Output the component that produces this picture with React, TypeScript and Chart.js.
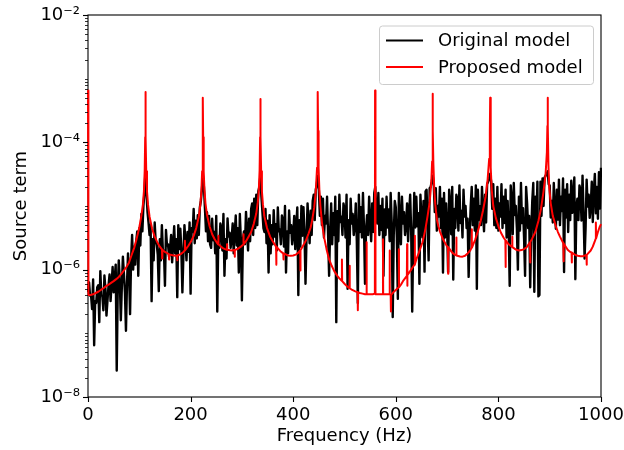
import React, { useEffect, useRef } from "react";
import { Chart, registerables } from "chart.js";

Chart.register(...registerables);

// ---- data (values in units of 1e-6) ----
const FREQ_STEP_HZ = 2;
const MICRO = 1e-6;

// Original model: one value every 2 Hz from 0 to 1000 Hz (10 values = 20 Hz per row)
const originalMicro: number[] = [
  0.45, 0.63, 0.39, 0.39, 0.24, 0.7, 0.065, 0.32, 0.3, 0.53,
  0.57, 0.15, 0.95, 0.4, 0.38, 0.23, 0.81, 0.5, 0.19, 0.33,
  0.56, 0.84, 0.32, 0.6, 1.1, 0.44, 0.72, 1.2, 0.026, 0.52,
  1.4, 0.66, 0.16, 0.55, 1.6, 0.88, 0.44, 0.11, 0.6, 1.8,
  0.9, 0.2, 1.5, 3.5, 1.0, 2.3, 1.2, 2.8, 4.0, 0.8,
  4.5, 2.4, 7.5, 4.0, 10, 16, 35, 16, 8.0, 5.5,
  3.5, 5.0, 0.32, 3.0, 1.4, 5.5, 2.7, 2.5, 1.7, 0.46,
  3.0, 1.4, 5.0, 1.9, 2.0, 0.56, 4.2, 2.4, 2.5, 1.6,
  2.2, 3.5, 1.3, 2.5, 4.8, 1.8, 3.0, 0.37, 5.0, 2.1,
  4.4, 2.0, 0.44, 1.7, 5.0, 2.7, 1.4, 3.9, 1.9, 5.5,
  0.42, 4.5, 3.9, 9.0, 2.6, 5.9, 3.1, 7.2, 3.5, 9.5,
  12, 18, 30, 20, 9.0, 4.0, 8.0, 2.8, 7.0, 2.5,
  2.2, 6.3, 2.9, 3.9, 1.8, 7.0, 0.22, 3.2, 2.2, 5.3,
  4.5, 2.0, 7.5, 0.8, 3.0, 1.5, 6.4, 3.3, 3.8, 2.2,
  3.1, 5.3, 1.8, 3.8, 7.1, 2.4, 4.5, 0.9, 7.5, 2.9,
  0.33, 3.0, 4.0, 2.5, 8.1, 4.0, 2.0, 6.3, 2.8, 9.0,
  11, 3.5, 13, 4.5, 15, 5.0, 17, 20, 30, 14,
  8.0, 4.5, 3.9, 9.0, 2.6, 5.9, 0.9, 7.2, 1.8, 5.0,
  2.5, 8.6, 3.3, 5.2, 2.0, 9.5, 4.0, 4.3, 2.5, 7.1,
  6.0, 2.3, 10, 0.9, 4.0, 1.8, 8.5, 3.8, 5.0, 2.5,
  3.6, 7.0, 2.1, 5.0, 9.5, 0.4, 6.0, 2.3, 10, 3.4,
  9.6, 3.8, 0.6, 3.2, 11, 5.1, 2.6, 8.4, 3.5, 12,
  15, 6.0, 18, 22, 30, 18, 7.0, 14, 5.0, 13,
  3.2, 7.0, 5.3, 14, 3.5, 0.8, 4.2, 11, 2.5, 7.7,
  3.5, 14, 0.15, 8.3, 2.8, 15, 5.6, 6.8, 3.5, 11,
  9.0, 3.2, 15, 0.5, 6.0, 2.5, 13, 5.3, 7.5, 3.5,
  4.9, 11, 2.8, 0.3, 15, 3.9, 9.6, 3.2, 16, 4.6,
  0.6, 4.2, 7.2, 3.5, 14, 5.6, 2.8, 11, 3.9, 16,
  20, 8.0, 5.3, 16, 3.5, 10, 4.2, 13, 0.8, 8.8,
  3.5, 14, 4.6, 8.8, 2.8, 16, 5.6, 0.18, 3.5, 12,
  9.6, 3.2, 0.35, 16, 6.4, 2.5, 14, 5.3, 8.0, 3.5,
  4.9, 11, 2.8, 8.0, 15, 3.9, 0.22, 3.2, 16, 4.6,
  14, 4.8, 7.7, 0.6, 15, 6.4, 3.2, 12, 0.93, 17,
  18, 5.0, 1.4, 19, 20, 24, 30, 22, 8.0, 19,
  4.1, 10, 6.8, 20, 4.5, 13, 0.9, 16, 3.2, 11,
  4.5, 0.92, 18, 11, 3.6, 20, 0.7, 9.0, 4.5, 15,
  13, 4.1, 21, 5.4, 8.4, 3.2, 18, 6.8, 10, 4.5,
  6.3, 0.77, 3.6, 10, 20, 5.0, 13, 4.1, 21, 0.5,
  18, 6.0, 9.9, 5.0, 20, 8.0, 4.0, 15, 5.5, 22,
  24, 27, 32, 24, 9.0, 22, 5.0, 13, 4.5, 20,
  4.1, 11, 6.8, 22, 4.5, 14, 5.4, 18, 3.2, 12,
  4.5, 0.56, 21, 12.6, 3.6, 23, 7.2, 10, 4.5, 1.0,
  14, 4.1, 23, 5.4, 9.2, 3.2, 0.8, 20, 11, 4.5,
  7.0, 0.53, 4.0, 12, 23, 0.45, 14, 4.5, 24, 0.38,
  0.4, 24, 7.0, 27, 10, 28, 30, 32, 35, 22,
  21, 6.6, 12, 5.5, 23, 8.8, 4.4, 18, 6.1, 26,
  5.0, 14, 8.3, 27, 0.92, 18, 6.6, 22, 3.9, 15,
  6.0, 25, 7.8, 15, 28, 0.71, 9.6, 13, 6.0, 21,
  18, 5.9, 30, 7.8, 1.5, 4.6, 26, 9.8, 15, 6.5,
  9.8, 24, 5.6, 17, 32, 7.7, 20, 6.3, 34, 9.1,
  40,
];

// Proposed model: [frequency Hz, value x1e-6]
const proposedModel: [number, number][] = [
  [0, 650], [0.8, 0.4], [5, 0.4], [10, 0.41], [15, 0.43], [20, 0.45], [25, 0.48], [30, 0.51],
  [35, 0.55], [40, 0.58], [45, 0.62], [50, 0.66], [55, 0.71], [60, 0.77], [65, 0.86], [70, 0.97],
  [75, 1.1], [80, 1.3], [85, 1.7], [90, 2.2], [95, 3.1], [100, 4.6], [104, 7], [107, 10.5],
  [109, 17], [110.5, 35], [111.5, 120], [112, 620], [112.5, 120], [113.5, 35], [115, 17],
  [117, 10.5], [120, 6.8], [125, 4.4], [130, 3.3], [135, 2.7], [140, 2.3], [144.2, 2.08],
  [144.6, 1.5], [145, 2.05], [150, 1.9], [155, 1.8], [157.6, 1.75], [158, 1.45], [158.4, 1.74],
  [165, 1.68], [170, 1.66], [173.6, 1.67], [174, 1.4], [174.4, 1.67], [180, 1.74], [186, 1.9],
  [188.6, 2.0], [189, 2.85], [189.4, 2.02], [196, 2.4], [201, 2.8], [206, 3.4], [211, 4.5],
  [216, 6.8], [219, 10.5], [221, 17], [222.5, 35], [223.5, 120], [224, 500], [224.5, 120],
  [225.5, 35], [227, 18], [229, 11], [232, 7.2], [237, 4.8], [242, 3.6], [247, 3.0], [252, 2.6],
  [253.6, 2.5], [254, 3.4], [254.4, 2.5], [262, 2.2], [267, 2.1], [270.6, 2.05], [271, 2.5],
  [271.4, 2.05], [280, 2.0], [285.6, 2.03], [286, 1.6], [286.4, 2.03], [293, 2.15], [298, 2.3],
  [302.6, 2.48], [303, 3.6], [303.4, 2.5], [308, 2.8], [313, 3.3], [318, 3.9], [323, 5.2],
  [328, 7.6], [331, 11.5], [333, 18], [334.5, 36], [335.5, 120], [336, 480], [336.5, 120],
  [337.5, 35], [339, 17], [341, 10.5], [344, 6.8], [349, 4.5], [355, 3.3], [360, 2.8],
  [366.6, 2.3], [367, 1.2], [367.4, 2.3], [375, 1.95], [380.6, 1.8], [381, 1.45], [381.4, 1.8],
  [390, 1.67], [395, 1.65], [400, 1.67], [405, 1.72], [410, 1.85], [413.6, 2.0], [414, 0.97],
  [414.4, 2.02], [420, 2.45], [425, 2.9], [430, 3.7], [434, 4.6], [437, 6], [441, 9.5], [444, 17],
  [446.5, 40], [447.5, 150], [448, 620], [448.5, 150], [449.5, 40], [451, 18], [453, 10],
  [456, 5.5], [460, 3.3], [465, 2.1], [470, 1.45], [475, 1.15], [480, 0.95], [486, 0.8],
  [490, 0.73], [494.6, 0.67], [495, 1.45], [495.4, 0.66], [500, 0.6], [505, 0.55], [509.6, 0.51],
  [510, 1.15], [510.4, 0.51], [515, 0.48], [520, 0.46], [525.6, 0.44], [526, 0.23], [526.4, 0.44],
  [530, 0.43], [535, 0.42], [540, 0.41], [542.6, 0.41], [543, 2.7], [543.4, 0.41], [550, 0.41],
  [555, 0.41], [559.2, 0.42], [559.6, 650], [560.2, 650], [560.6, 0.41], [565, 0.41], [570, 0.41],
  [574.6, 0.41], [575, 3.0], [575.4, 0.41], [580, 0.41], [585, 0.41], [587.6, 0.41], [588, 2.0],
  [588.4, 0.41], [590, 0.4], [590.5, 0.22], [591, 0.4], [595, 0.44], [600, 0.48], [605.6, 0.53],
  [606, 2.1], [606.4, 0.53], [610, 0.58], [615, 0.68], [621.6, 0.8], [622, 2.5], [622.4, 0.56],
  [622.8, 0.82], [630, 1.0], [635, 1.15], [636.6, 1.2], [637, 3.4], [637.4, 1.22], [640, 1.45],
  [645, 1.85], [649, 2.3], [652, 2.7], [655, 3.4], [658, 4.5], [662, 7], [666, 11.5], [669, 22],
  [670.8, 50], [671.6, 150], [672, 580], [672.4, 150], [673.3, 45], [675, 18], [677, 10.5],
  [680, 6.2], [683, 4.8], [686, 4], [692, 3], [700, 2.3], [701.6, 2.25], [702, 0.86],
  [702.4, 2.24], [710, 1.85], [715, 1.72], [717.6, 1.68], [718, 3.2], [718.4, 1.67], [725, 1.61],
  [730, 1.6], [735, 1.65], [740, 1.8], [745, 2.0], [747.6, 2.2], [748, 4.3], [748.4, 2.2],
  [755, 3.0], [760, 4.0], [765, 5.6], [770, 8.5], [775, 14], [779, 26], [782, 55], [783.3, 150],
  [784, 500], [784.5, 150], [785.5, 40], [787, 18], [790, 10], [795, 6.5], [800, 4.8], [805, 3.8],
  [810, 3.2], [813.6, 2.9], [814, 1.1], [814.4, 2.88], [820, 2.5], [826.6, 2.27], [827, 3.3],
  [827.4, 2.26], [835, 2.05], [840, 2.0], [845, 2.03], [850, 2.1], [855, 2.25], [861.6, 2.7],
  [862, 1.3], [862.4, 2.72], [866, 3.1], [872, 3.9], [878, 5.8], [883, 9], [888, 17], [892, 32],
  [894.5, 70], [895.5, 180], [896, 500], [896.5, 180], [897.5, 45], [899, 20], [902, 11],
  [906, 7], [912, 4.8], [916, 3.9], [920, 3.3], [926.6, 2.6], [927, 1.35], [927.4, 2.58],
  [935, 2.05], [940, 1.9], [942.6, 1.86], [943, 1.3], [943.4, 1.85], [950, 1.7], [955, 1.65],
  [960, 1.62], [965, 1.63], [971.6, 1.7], [972, 1.2], [972.4, 1.71], [980, 2.0], [984, 2.3],
  [988, 2.8], [989.6, 3.05], [990, 5.5], [990.4, 3.1], [994, 3.9], [997, 4.6], [1000, 5.2],
];

const seriesLabels = ["Original model", "Proposed model"];
const seriesColors = ["#000000", "#ff0000"];
const xTickValues = [0, 200, 400, 600, 800, 1000];
const yMajorExponents = [-8, -6, -4, -2];
const yMinorSubs = [2, 3, 4, 5, 6, 7, 8, 9];
const xTitle = "Frequency (Hz)";
const yTitle = "Source term";

const FONT = "'DejaVu Sans', 'Liberation Sans', sans-serif";
const SUP: Record<string, string> = {
  "-": "\u207B", "0": "\u2070", "1": "\u00B9", "2": "\u00B2", "3": "\u00B3",
  "4": "\u2074", "5": "\u2075", "6": "\u2076", "7": "\u2077", "8": "\u2078", "9": "\u2079",
};
const sup = (s: string) => s.split("").map((c) => SUP[c] ?? c).join("");

export default function App() {
  const canvasRef = useRef<HTMLCanvasElement | null>(null);

  useEffect(() => {
    document.body.style.margin = "0";
    const canvas = canvasRef.current;
    if (!canvas) return;

    const originalPoints = originalMicro.map((v, i) => ({ x: i * FREQ_STEP_HZ, y: v * MICRO }));
    const proposedPoints = proposedModel.map(([f, v]) => ({ x: f, y: v * MICRO }));

    const axesPlugin = {
      id: "mplAxes",
      beforeDatasetsDraw(chart: any) {
        const { ctx, chartArea: a } = chart;
        ctx.save();
        ctx.strokeStyle = "#000";
        ctx.lineWidth = 1.1;
        ctx.strokeRect(a.left, a.top, a.right - a.left, a.bottom - a.top);
        ctx.restore();
      },
      afterDraw(chart: any) {
        const { ctx, chartArea: a, scales } = chart;
        ctx.save();
        ctx.strokeStyle = "#000";
        // x ticks
        ctx.lineWidth = 1.1;
        for (const v of xTickValues) {
          const px = Math.round(scales.x.getPixelForValue(v)) + 0.5;
          ctx.beginPath();
          ctx.moveTo(px, a.bottom);
          ctx.lineTo(px, a.bottom + 5);
          ctx.stroke();
        }
        // y ticks
        for (let e = -8; e <= -2; e++) {
          const major = yMajorExponents.includes(e);
          const py = Math.round(scales.y.getPixelForValue(Math.pow(10, e))) + 0.5;
          ctx.lineWidth = major ? 1.1 : 0.8;
          ctx.beginPath();
          ctx.moveTo(a.left, py);
          ctx.lineTo(a.left - (major ? 5 : 3), py);
          ctx.stroke();
          if (e < -2) {
            ctx.lineWidth = 0.8;
            for (const s of yMinorSubs) {
              const y = Math.round(scales.y.getPixelForValue(s * Math.pow(10, e))) + 0.5;
              ctx.beginPath();
              ctx.moveTo(a.left, y);
              ctx.lineTo(a.left - 3, y);
              ctx.stroke();
            }
          }
        }
        // legend
        const boxW = 214;
        const boxH = 58.5;
        const bx = a.right - 8 - boxW;
        const by = a.top + 10.5;
        ctx.beginPath();
        (ctx as any).roundRect(bx + 0.5, by + 0.5, boxW, boxH, 3);
        ctx.fillStyle = "rgba(255,255,255,0.8)";
        ctx.fill();
        ctx.strokeStyle = "#cccccc";
        ctx.lineWidth = 1;
        ctx.stroke();
        ctx.font = `18px ${FONT}`;
        ctx.textBaseline = "middle";
        ctx.textAlign = "left";
        chart.data.datasets.forEach((ds: any, i: number) => {
          const cy = by + 15 + i * 26.5;
          ctx.strokeStyle = ds.borderColor;
          ctx.lineWidth = 2;
          ctx.beginPath();
          ctx.moveTo(bx + 7, cy);
          ctx.lineTo(bx + 44, cy);
          ctx.stroke();
          ctx.fillStyle = "#000";
          ctx.fillText(ds.label, bx + 59, cy + 1);
        });
        ctx.restore();
      },
    };

    const chart = new Chart(canvas, {
      type: "line",
      data: {
        datasets: [
          {
            label: seriesLabels[0],
            data: originalPoints,
            borderColor: seriesColors[0],
            backgroundColor: seriesColors[0],
            borderWidth: 2.4,
            pointRadius: 0,
            tension: 0,
            borderJoinStyle: "round",
            order: 1,
            clip: 1,
          },
          {
            label: seriesLabels[1],
            data: proposedPoints,
            borderColor: seriesColors[1],
            backgroundColor: seriesColors[1],
            borderWidth: 2,
            pointRadius: 0,
            tension: 0,
            borderJoinStyle: "round",
            order: 0,
            clip: 1,
          },
        ],
      },
      options: {
        animation: false,
        responsive: false,
        maintainAspectRatio: false,
        parsing: false as any,
        normalized: true,
        layout: { padding: { top: 15, right: 23, left: 0, bottom: 0 } },
        plugins: {
          legend: { display: false },
          tooltip: { enabled: false },
        },
        scales: {
          x: {
            type: "linear",
            min: 0,
            max: 1000,
            grid: { display: false, drawTicks: false },
            border: { display: false },
            afterBuildTicks: (s: any) => {
              s.ticks = xTickValues.map((v) => ({ value: v }));
            },
            afterFit: (s: any) => {
              s.height = 53;
              s.paddingLeft = 0;
              s.paddingRight = 0;
            },
            ticks: {
              color: "#000",
              font: { family: FONT, size: 18 },
              padding: 8,
              maxRotation: 0,
              autoSkip: false,
              callback: (v: any) => String(v),
            },
            title: {
              display: true,
              text: xTitle,
              color: "#000",
              font: { family: FONT, size: 18 },
              padding: { top: 0, bottom: 3 },
            },
          },
          y: {
            type: "logarithmic",
            min: 1e-8,
            max: 1e-2,
            grid: { display: false, drawTicks: false },
            border: { display: false },
            afterBuildTicks: (s: any) => {
              s.ticks = yMajorExponents.map((e) => ({ value: Math.pow(10, e) }));
            },
            afterFit: (s: any) => {
              s.width = 88;
              s.paddingTop = 0;
              s.paddingBottom = 0;
            },
            ticks: {
              color: "#000",
              font: { family: FONT, size: 18 },
              padding: 8,
              autoSkip: false,
              callback: (v: any) => "10" + sup(String(Math.round(Math.log10(Number(v))))),
            },
            title: {
              display: true,
              text: yTitle,
              color: "#000",
              font: { family: FONT, size: 18 },
              padding: { top: 11, bottom: 0 },
            },
          },
        },
      },
      plugins: [axesPlugin],
    } as any);

    return () => chart.destroy();
  }, []);

  return (
    <div style={{ width: 624, height: 450, background: "#fff" }}>
      <canvas ref={canvasRef} width={624} height={450} style={{ display: "block", width: 624, height: 450 }} />
    </div>
  );
}
